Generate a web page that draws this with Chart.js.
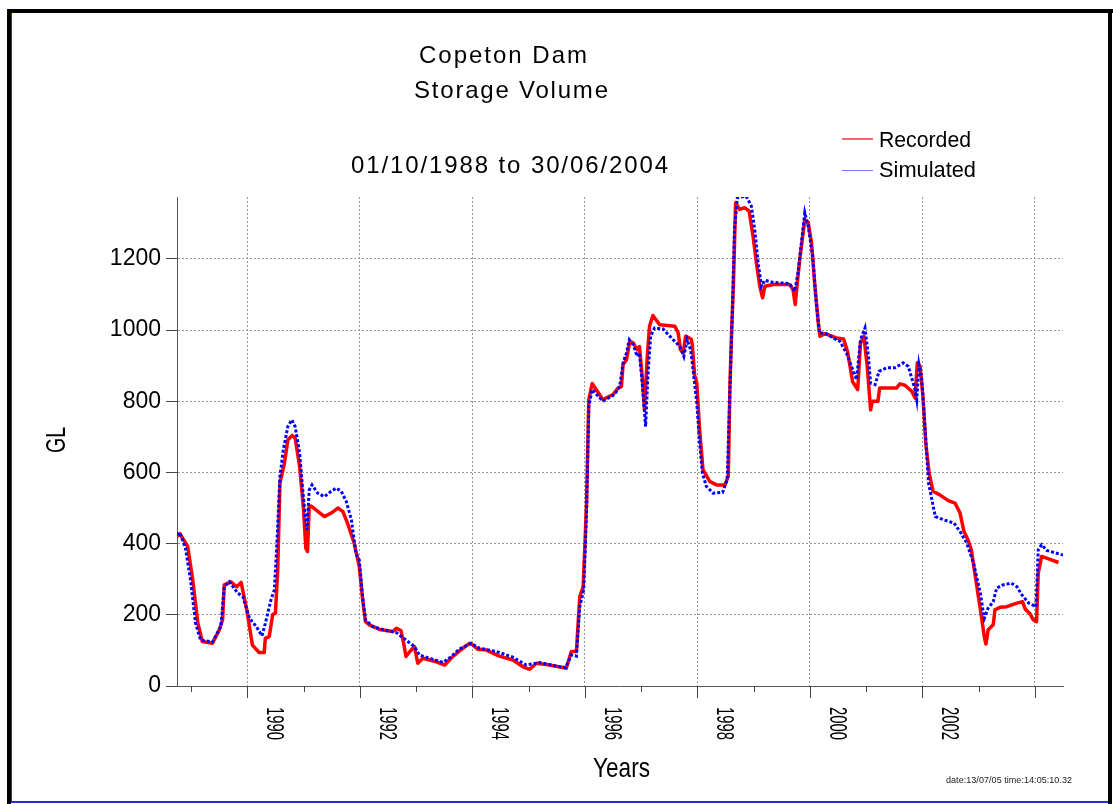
<!DOCTYPE html>
<html>
<head>
<meta charset="utf-8">
<script src="https://cdn.jsdelivr.net/npm/chart.js@4.4.1/dist/chart.umd.min.js"></script>
<style>
  html, body { margin: 0; padding: 0; background: #fff; }
  #wrap { width: 1113px; height: 804px; position: relative; }
</style>
</head>
<body>
<div id="wrap"><canvas id="c" width="1113" height="804"></canvas></div>
<script>
// ---------------- data ----------------
const titleLines = ["Copeton Dam", "Storage Volume", "01/10/1988 to 30/06/2004"];
const seriesNames = ["Recorded", "Simulated"];
const xAxisTitle = "Years";
const yAxisTitle = "GL";
const stampText = "date:13/07/05 time:14:05:10.32";
const yTickValues = [0, 200, 400, 600, 800, 1000, 1200];
const xTickYears = [1989,1990,1991,1992,1993,1994,1995,1996,1997,1998,1999,2000,2001,2002,2003,2004];
const xLabelYears = [1990,1992,1994,1996,1998,2000,2002];

const recordedYears = [1988.75,1988.80,1988.94,1989.03,1989.12,1989.20,1989.38,1989.50,1989.56,1989.59,1989.71,1989.81,1989.89,1989.99,1990.09,1990.21,1990.30,1990.32,1990.39,1990.45,1990.50,1990.54,1990.58,1990.66,1990.72,1990.80,1990.85,1990.93,1991.00,1991.04,1991.07,1991.10,1991.13,1991.22,1991.37,1991.49,1991.61,1991.70,1991.78,1991.90,1991.99,1992.05,1992.10,1992.17,1992.35,1992.59,1992.65,1992.73,1992.78,1992.82,1992.89,1992.97,1993.03,1993.12,1993.36,1993.51,1993.62,1993.76,1993.83,1993.95,1994.01,1994.10,1994.25,1994.48,1994.72,1994.90,1995.02,1995.14,1995.37,1995.67,1995.76,1995.85,1995.91,1995.97,1996.00,1996.03,1996.07,1996.13,1996.32,1996.50,1996.59,1996.65,1996.68,1996.74,1996.80,1996.86,1996.93,1996.97,1997.02,1997.06,1997.11,1997.15,1997.21,1997.33,1997.60,1997.66,1997.70,1997.75,1997.79,1997.89,1997.91,1997.95,1997.99,1998.04,1998.10,1998.22,1998.34,1998.49,1998.55,1998.58,1998.61,1998.64,1998.68,1998.75,1998.84,1998.92,1998.99,1999.05,1999.11,1999.16,1999.20,1999.35,1999.64,1999.70,1999.74,1999.77,1999.82,1999.91,1999.97,2000.03,2000.09,2000.15,2000.18,2000.27,2000.47,2000.60,2000.67,2000.76,2000.85,2000.90,2000.96,2001.02,2001.08,2001.11,2001.21,2001.24,2001.54,2001.60,2001.69,2001.81,2001.87,2001.91,2001.96,2002.01,2002.06,2002.12,2002.19,2002.31,2002.46,2002.58,2002.67,2002.74,2002.81,2002.87,2002.96,2003.05,2003.10,2003.13,2003.17,2003.26,2003.29,2003.38,2003.50,2003.68,2003.78,2003.83,2003.91,2003.97,2004.03,2004.06,2004.12,2004.27,2004.42];
const recordedValues = [420,428,392,298,177,125,120,157,186,284,293,279,291,214,115,94,94,134,139,200,205,326,570,626,692,704,697,617,495,387,378,504,506,495,476,486,500,490,458,401,336,242,181,172,159,153,162,156,120,83,97,111,64,78,68,59,78,97,106,120,115,103,101,84,73,54,47,64,59,50,97,97,251,279,392,514,805,850,805,819,837,842,903,917,968,964,945,954,870,776,926,1011,1041,1015,1011,992,945,936,983,975,959,875,851,720,608,575,565,565,589,851,1001,1123,1358,1339,1344,1334,1264,1189,1123,1091,1123,1128,1128,1114,1072,1123,1198,1311,1302,1245,1123,1020,983,990,978,975,940,855,833,964,983,898,776,800,800,837,837,849,845,828,809,908,898,814,683,598,547,537,521,514,486,434,411,383,289,195,139,118,158,172,214,221,223,233,237,216,204,186,181,317,364,356,347];

const simulatedYears = [1988.74,1988.80,1988.90,1988.99,1989.08,1989.17,1989.38,1989.53,1989.59,1989.68,1989.83,1989.92,1990.04,1990.16,1990.26,1990.32,1990.42,1990.48,1990.52,1990.58,1990.64,1990.72,1990.79,1990.85,1990.93,1990.98,1991.03,1991.06,1991.10,1991.15,1991.25,1991.37,1991.49,1991.58,1991.67,1991.76,1991.85,1991.93,1991.99,1992.05,1992.10,1992.23,1992.47,1992.65,1992.82,1992.97,1993.06,1993.24,1993.48,1993.62,1993.77,1993.98,1994.13,1994.43,1994.72,1994.96,1995.20,1995.49,1995.66,1995.76,1995.85,1995.91,1995.98,1996.03,1996.07,1996.13,1996.32,1996.53,1996.62,1996.68,1996.74,1996.79,1996.86,1996.93,1996.97,1997.03,1997.08,1997.12,1997.17,1997.24,1997.39,1997.57,1997.69,1997.76,1997.82,1997.88,1997.93,1997.99,1998.04,1998.09,1998.16,1998.28,1998.45,1998.53,1998.58,1998.62,1998.66,1998.71,1998.87,1998.96,1999.02,1999.08,1999.14,1999.20,1999.35,1999.64,1999.73,1999.79,1999.85,1999.91,1999.97,2000.05,2000.11,2000.17,2000.27,2000.47,2000.53,2000.65,2000.74,2000.83,2000.90,2000.98,2001.04,2001.08,2001.16,2001.23,2001.36,2001.51,2001.66,2001.75,2001.81,2001.87,2001.90,2001.94,2001.99,2002.05,2002.11,2002.23,2002.38,2002.56,2002.67,2002.79,2002.91,2003.03,2003.10,2003.17,2003.26,2003.32,2003.43,2003.58,2003.68,2003.77,2003.89,2004.02,2004.06,2004.12,2004.21,2004.50];
const simulatedValues = [425,431,387,298,176,129,124,167,279,293,261,251,190,167,141,176,242,270,383,589,664,729,748,729,655,561,476,439,551,565,542,532,547,556,547,518,467,373,354,251,186,167,156,150,129,111,87,78,66,82,104,120,106,97,81,59,66,56,52,87,84,223,270,486,786,833,800,819,842,908,936,973,959,926,936,833,729,870,983,1006,1003,973,954,926,973,945,880,795,683,598,561,542,544,580,833,1039,1283,1372,1376,1348,1283,1189,1123,1140,1134,1131,1109,1161,1245,1330,1292,1208,1086,992,992,973,969,936,898,861,973,1006,926,851,847,884,894,894,908,898,866,833,805,903,861,720,570,476,467,458,434,401,345,261,190,219,237,275,284,289,279,256,233,223,383,397,381,368];

// ---------------- chart ----------------
const FONT = "'Liberation Sans Narrow', 'Liberation Sans', Arial, sans-serif";

function drawFit(ctx, text, x, y, w, size, rot, color) {
  ctx.save();
  ctx.font = size + 'px ' + FONT;
  ctx.fillStyle = color || '#000';
  ctx.textAlign = 'left';
  ctx.textBaseline = 'alphabetic';
  ctx.translate(x, y);
  if (rot) ctx.rotate(rot);
  try { ctx.letterSpacing = '0px'; } catch (e) {}
  const m = ctx.measureText(text).width;
  if (m > w) {
    ctx.scale(w / m, 1);
  } else if (text.length > 1) {
    try { ctx.letterSpacing = ((w - m) / (text.length - 1)) + 'px'; } catch (e) {}
  }
  ctx.fillText(text, 0, 0);
  try { ctx.letterSpacing = '0px'; } catch (e) {}
  ctx.restore();
}

const decor = {
  id: 'decor',
  afterDraw(chart) {
    const ctx = chart.ctx;
    const xs = chart.scales.x;
    const area = chart.chartArea;
    ctx.save();
    // frame
    ctx.fillStyle = '#000';
    ctx.fillRect(7, 9, 1106, 4);
    ctx.fillRect(7, 9, 4, 795);
    ctx.fillRect(1108, 9, 4, 795);
    ctx.fillStyle = '#2a2ad0';
    ctx.fillRect(11, 13, 1, 789);
    ctx.fillRect(11, 801, 1097, 2);

    // x tick marks
    ctx.strokeStyle = '#444';
    ctx.lineWidth = 1;
    xTickYears.forEach(yr => {
      const px = Math.round(xs.getPixelForValue(yr)) + 0.5;
      const len = (yr % 2 === 0) ? 12 : 6;
      ctx.beginPath();
      ctx.moveTo(px, area.bottom);
      ctx.lineTo(px, area.bottom + len);
      ctx.stroke();
    });
    // x tick labels (rotated clockwise, centred in the year)
    xLabelYears.forEach(yr => {
      const cx = xs.getPixelForValue(yr + 0.5);
      drawFit(ctx, String(yr), cx - 8.3, 707, 33, 23, Math.PI / 2);
    });

    // titles
    drawFit(ctx, titleLines[0], 419, 63, 168, 24);
    drawFit(ctx, titleLines[1], 414, 98, 194, 24);
    drawFit(ctx, titleLines[2], 351, 173, 317, 24);

    // legend
    ctx.strokeStyle = '#f06a6a';
    ctx.lineWidth = 2;
    ctx.beginPath(); ctx.moveTo(842, 139); ctx.lineTo(873, 139); ctx.stroke();
    ctx.strokeStyle = '#7a7af0';
    ctx.lineWidth = 1;
    ctx.beginPath(); ctx.moveTo(842, 170.5); ctx.lineTo(873, 170.5); ctx.stroke();
    drawFit(ctx, seriesNames[0], 879, 147, 92, 22);
    drawFit(ctx, seriesNames[1], 879, 177, 97, 22);

    // axis titles
    drawFit(ctx, xAxisTitle, 593, 777, 57, 28);
    drawFit(ctx, yAxisTitle, 65, 453, 26, 27, -Math.PI / 2);

    // stamp
    drawFit(ctx, stampText, 946, 783, 126, 9, 0, '#222');
    ctx.restore();
  }
};

const toPoints = (xs, ys) => xs.map((x, i) => ({ x: x, y: ys[i] }));

new Chart(document.getElementById('c'), {
  type: 'line',
  data: {
    datasets: [
      {
        label: seriesNames[0],
        data: toPoints(recordedYears, recordedValues),
        borderColor: '#ff0000',
        borderWidth: 3.5,
        pointRadius: 0,
        tension: 0,
        fill: false,
        order: 1,
        borderJoinStyle: 'round'
      },
      {
        label: seriesNames[1],
        data: toPoints(simulatedYears, simulatedValues),
        borderColor: '#0000ff',
        borderWidth: 3,
        borderDash: [3, 2],
        pointRadius: 0,
        tension: 0,
        fill: false,
        order: 0
      }
    ]
  },
  options: {
    responsive: false,
    devicePixelRatio: 1,
    animation: false,
    events: [],
    layout: { padding: { top: 197, right: 50, left: 0, bottom: 0 } },
    plugins: { legend: { display: false }, title: { display: false }, tooltip: { enabled: false } },
    scales: {
      x: {
        type: 'linear',
        min: 1988.75,
        max: 2004.5,
        afterBuildTicks: (s) => { s.ticks = xTickYears.map(v => ({ value: v })); },
        afterFit: (s) => { s.height = 118; },
        ticks: { display: false },
        grid: {
          color: (c) => (c.tick && c.tick.value % 2 === 0) ? '#9a9a9a' : 'rgba(0,0,0,0)',
          lineWidth: 1,
          drawTicks: false,
          borderDash: [2, 2]
        },
        border: { display: true, color: '#555', width: 1, dash: [2, 2] }
      },
      y: {
        type: 'linear',
        min: 0,
        max: 1374,
        afterBuildTicks: (s) => { s.ticks = yTickValues.map(v => ({ value: v })); },
        afterFit: (s) => { s.width = 177; },
        ticks: {
          color: '#000',
          padding: 5,
          font: { family: FONT, size: 23 },
          callback: (v) => String(v)
        },
        grid: {
          color: (c) => (c.tick && c.tick.value === 0) ? 'rgba(0,0,0,0)' : '#9a9a9a',
          lineWidth: 1,
          drawTicks: true,
          tickLength: 11,
          tickColor: '#444',
          tickWidth: 1,
          tickBorderDash: [],
          borderDash: [2, 2]
        },
        border: { display: true, color: '#555', width: 1, dash: [2, 2] }
      }
    }
  },
  plugins: [decor]
});
</script>
</body>
</html>
